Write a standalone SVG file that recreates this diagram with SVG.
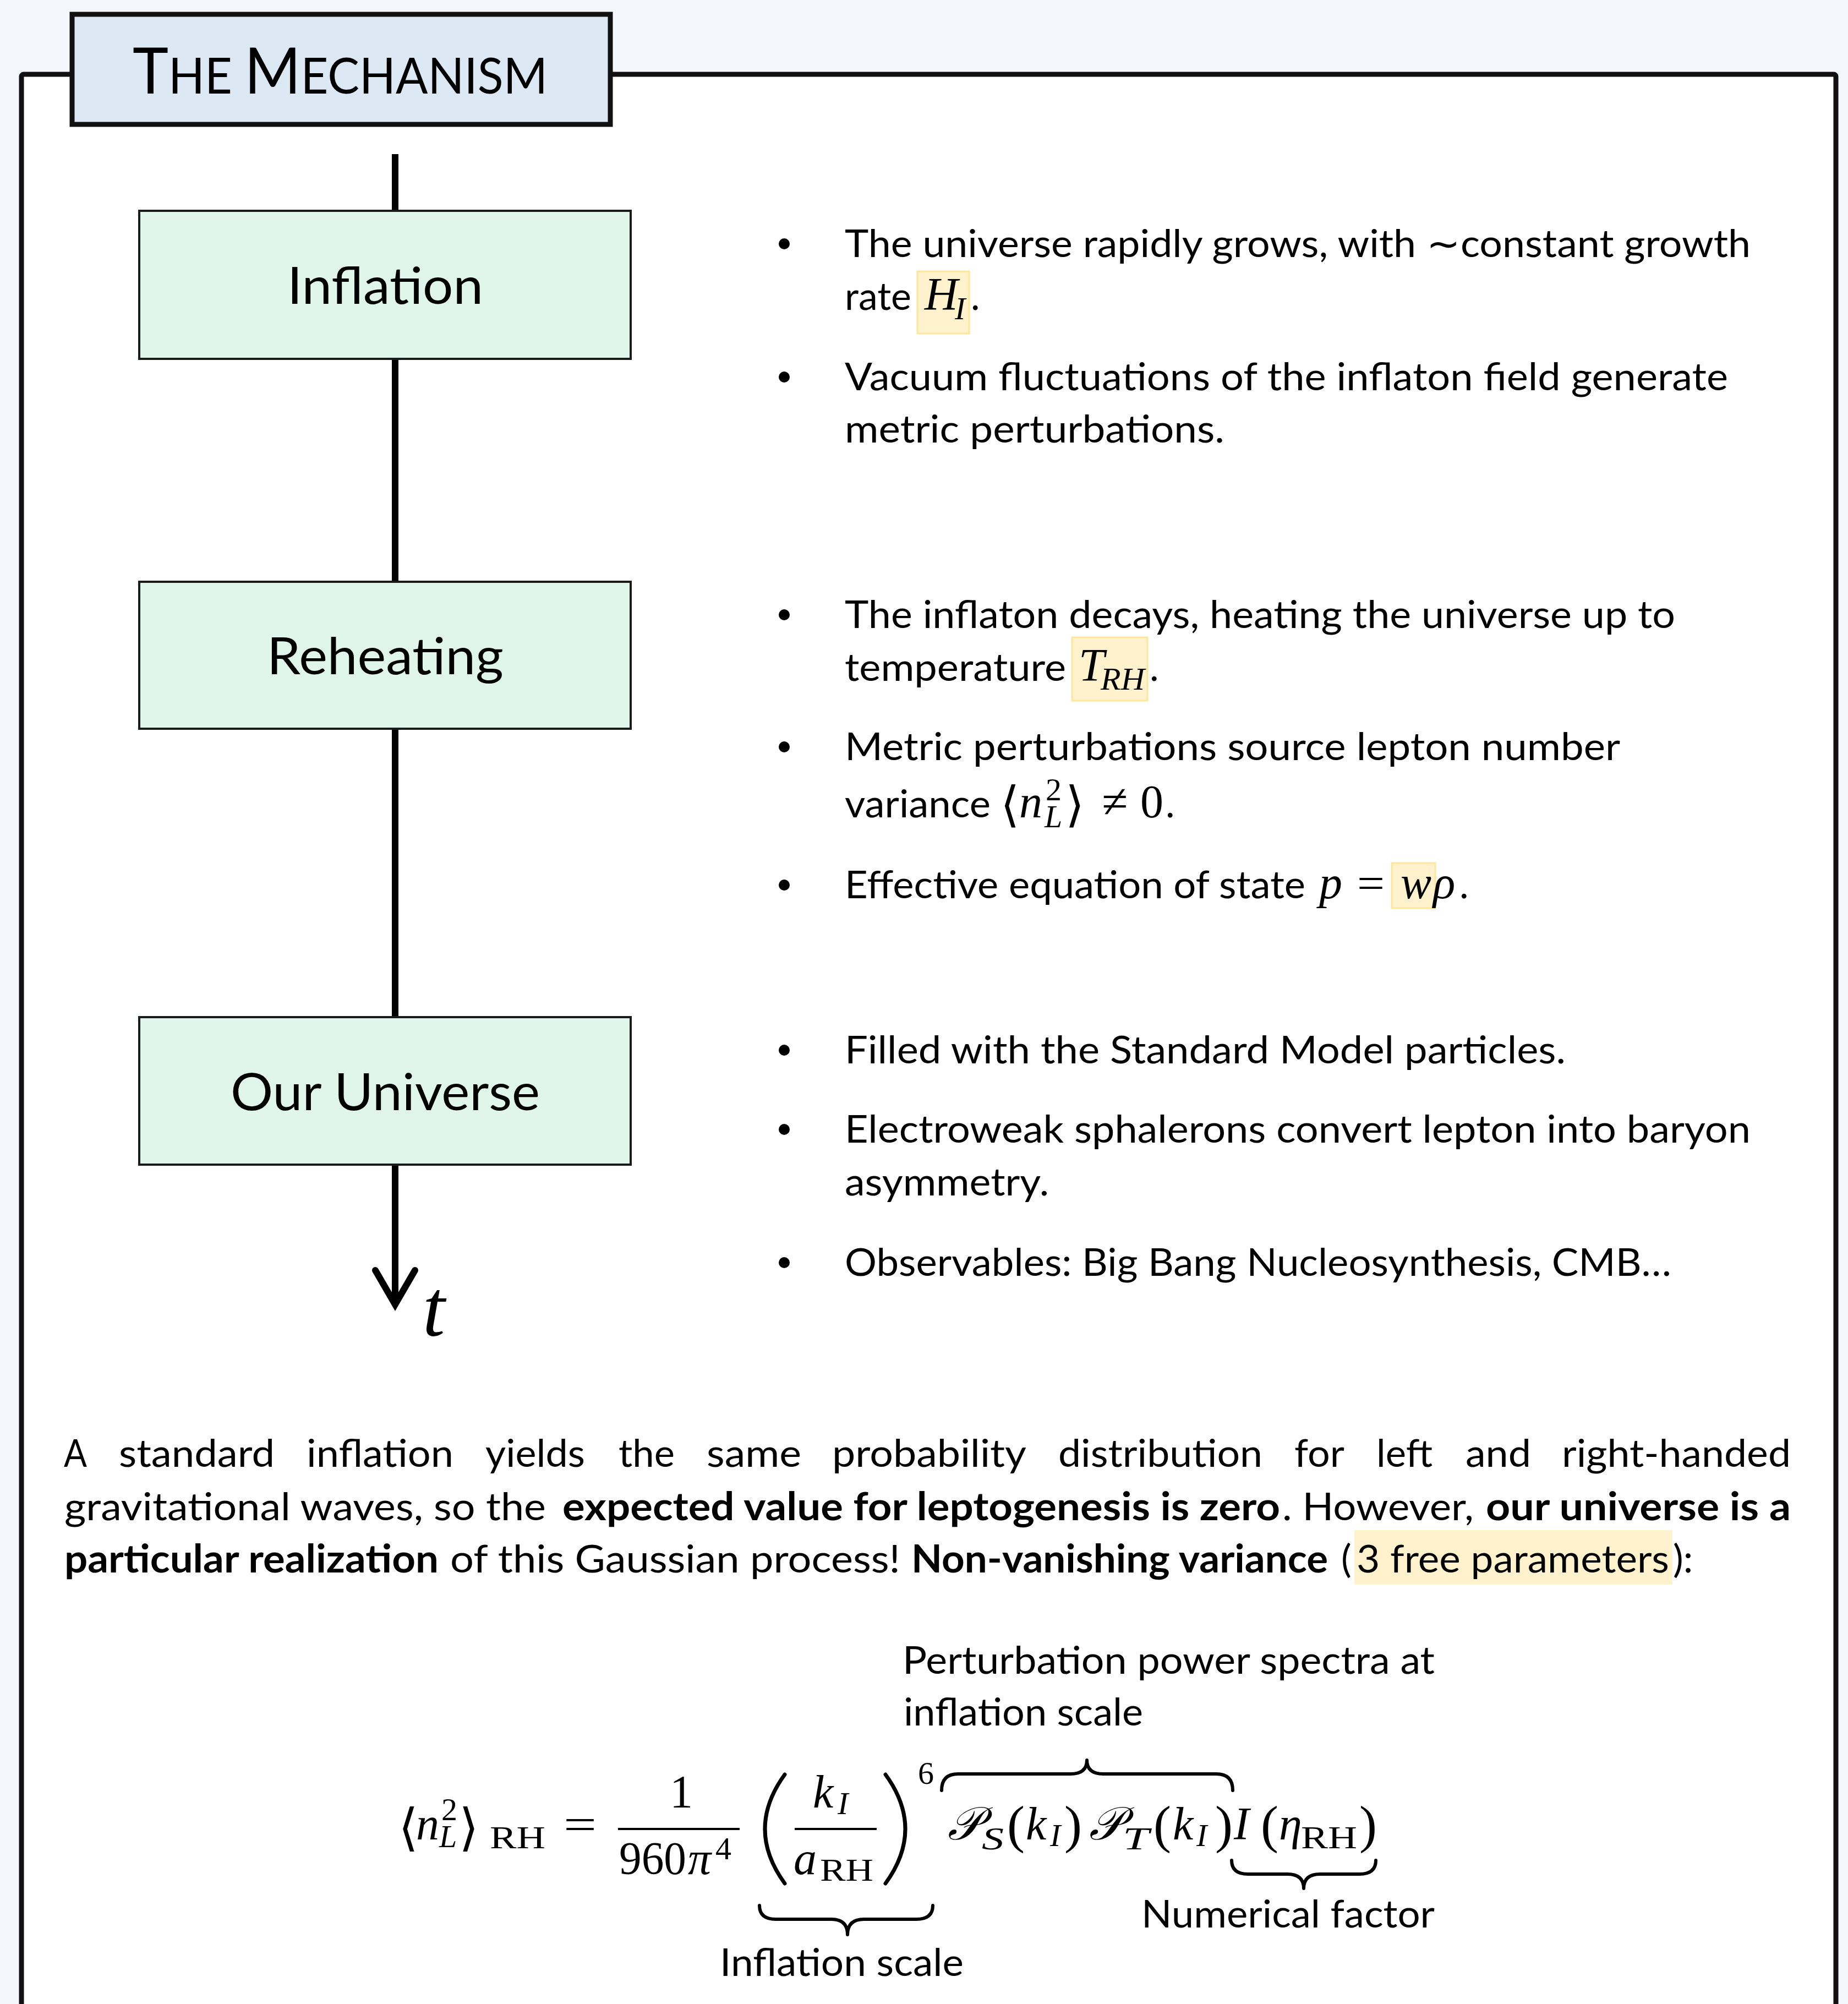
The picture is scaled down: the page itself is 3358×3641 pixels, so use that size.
<svg xmlns="http://www.w3.org/2000/svg" width="3358" height="3641" viewBox="0 0 3358 3641">
<defs>
<style>
.t{font-family:Lato,"Open Sans","Liberation Sans",sans-serif;font-size:70px;fill:#000}
.b{font-weight:700}
.lbl{font-family:Lato,"Open Sans",sans-serif;font-size:93px;fill:#000;text-anchor:middle}
.node{fill:#e0f5ec;stroke:#1a1a1a;stroke-width:4}
.hl{fill:#fff2cc;stroke:#ffe699;stroke-width:3}
.m{font-family:"Liberation Serif","DejaVu Serif",serif;font-size:80px;fill:#000}
.i{font-style:italic}
.s{font-size:58px}
.ang{font-family:"DejaVu Sans",sans-serif}
.brace{fill:none;stroke:#000;stroke-width:6;stroke-linecap:round;stroke-linejoin:round}
.paren{fill:none;stroke:#000;stroke-width:7;stroke-linecap:round}
.conn{stroke:#000;stroke-width:12;fill:none}
.dot{fill:#000}
</style>
</defs>
<rect x="0" y="0" width="3358" height="3641" fill="#f4f7fb"/>
<rect id="frame" x="39" y="135" width="3297" height="3600" rx="4" fill="#fff" stroke="#111" stroke-width="9"/>

<g id="title">
<rect x="131" y="26" width="978" height="200" fill="#dde8f5" stroke="#111" stroke-width="9"/>
<text x="241" y="170" class="t" textLength="754" lengthAdjust="spacingAndGlyphs"><tspan font-size="116">T</tspan><tspan font-size="91">HE </tspan><tspan font-size="116">M</tspan><tspan font-size="91">ECHANISM</tspan></text>
</g>

<g id="connectors">
<line class="conn" x1="718" y1="280" x2="718" y2="383"/>
<line class="conn" x1="718" y1="652" x2="718" y2="1057"/>
<line class="conn" x1="718" y1="1324" x2="718" y2="1848"/>
<line class="conn" x1="718" y1="2116" x2="718" y2="2368"/>
<polyline class="conn" points="682,2308 718,2370 754,2308" stroke-linecap="round" stroke-linejoin="miter"/>
<text x="768" y="2427" class="m i" style="font-size:146px">t</text>
</g>

<g id="inflation">
<rect class="node" x="253" y="383" width="893" height="269"/>
<text class="lbl" x="700" y="552" textLength="356" lengthAdjust="spacingAndGlyphs">Inflation</text>
</g>
<g id="reheating">
<rect class="node" x="253" y="1057" width="893" height="267"/>
<text class="lbl" x="700" y="1225" textLength="430" lengthAdjust="spacingAndGlyphs">Reheating</text>
</g>
<g id="our-universe">
<rect class="node" x="253" y="1848" width="893" height="268"/>
<text class="lbl" x="700" y="2017" textLength="562" lengthAdjust="spacingAndGlyphs">Our Universe</text>
</g>

<g id="inflation-notes">
<circle class="dot" cx="1425" cy="443" r="10"/>
<text class="t" x="1535" y="467" textLength="1646" lengthAdjust="spacingAndGlyphs">The universe rapidly grows, with ∼constant growth</text>
<text class="t" x="1535" y="563" textLength="121" lengthAdjust="spacingAndGlyphs">rate</text>
<rect class="hl" x="1667" y="493" width="94" height="113"/>
<text class="m i"><tspan x="1680" y="563" font-size="84">H</tspan><tspan x="1735" y="580" class="s">I</tspan></text>
<text class="t" x="1764" y="563">.</text>
<circle class="dot" cx="1425" cy="685" r="10"/>
<text class="t" x="1535" y="709" textLength="1605" lengthAdjust="spacingAndGlyphs">Vacuum fluctuations of the inflaton field generate</text>
<text class="t" x="1535" y="804" textLength="690" lengthAdjust="spacingAndGlyphs">metric perturbations.</text>
</g>

<g id="reheating-notes">
<circle class="dot" cx="1425" cy="1117" r="10"/>
<text class="t" x="1535" y="1141" textLength="1509" lengthAdjust="spacingAndGlyphs">The inflaton decays, heating the universe up to</text>
<text class="t" x="1535" y="1237" textLength="402" lengthAdjust="spacingAndGlyphs">temperature</text>
<rect class="hl" x="1948" y="1158" width="137" height="115"/>
<text class="m i"><tspan x="1960" y="1237" font-size="84">T</tspan><tspan x="2000" y="1253" class="s" textLength="80" lengthAdjust="spacingAndGlyphs">RH</tspan></text>
<text class="t" x="2089" y="1237">.</text>
<circle class="dot" cx="1425" cy="1357" r="10"/>
<text class="t" x="1535" y="1381" textLength="1409" lengthAdjust="spacingAndGlyphs">Metric perturbations source lepton number</text>
<text class="t" x="1535" y="1485" textLength="265" lengthAdjust="spacingAndGlyphs">variance</text>
<text class="m"><tspan class="ang" x="1818" y="1492" font-size="88">⟨</tspan><tspan class="i" x="1852" y="1485" font-size="84">n</tspan><tspan class="s" x="1900" y="1454">2</tspan><tspan class="i s" x="1898" y="1503">L</tspan><tspan class="ang" x="1936" y="1492" font-size="88">⟩</tspan></text>
<text class="m" x="2002" y="1485" style="font-size:86px">≠</text>
<text class="m" x="2072" y="1485" style="font-size:84px">0</text>
<text class="t" x="2118" y="1485">.</text>
<circle class="dot" cx="1425" cy="1608" r="10"/>
<text class="t" x="1535" y="1632" textLength="837" lengthAdjust="spacingAndGlyphs">Effective equation of state</text>
<rect class="hl" x="2529" y="1568" width="79" height="82"/>
<text class="m i" x="2397" y="1632" style="font-size:84px">p</text>
<text class="m" x="2466" y="1632" textLength="50" lengthAdjust="spacingAndGlyphs">=</text>
<text class="m i" x="2545" y="1632" style="font-size:84px">w</text>
<text class="m i" x="2604" y="1632" style="font-size:84px">ρ</text>
<text class="t" x="2652" y="1632">.</text>
</g>

<g id="universe-notes">
<circle class="dot" cx="1425" cy="1908" r="10"/>
<text class="t" x="1535" y="1932" textLength="1310" lengthAdjust="spacingAndGlyphs">Filled with the Standard Model particles.</text>
<circle class="dot" cx="1425" cy="2052" r="10"/>
<text class="t" x="1535" y="2076" textLength="1646" lengthAdjust="spacingAndGlyphs">Electroweak sphalerons convert lepton into baryon</text>
<text class="t" x="1535" y="2172" textLength="371" lengthAdjust="spacingAndGlyphs">asymmetry.</text>
<circle class="dot" cx="1425" cy="2294" r="10"/>
<text class="t" x="1535" y="2318" textLength="1502" lengthAdjust="spacingAndGlyphs">Observables: Big Bang Nucleosynthesis, CMB…</text>
</g>

<g id="paragraph">
<text class="t" x="116" y="2665" textLength="42" lengthAdjust="spacingAndGlyphs">A</text>
<text class="t" x="216" y="2665" textLength="283" lengthAdjust="spacingAndGlyphs">standard</text>
<text class="t" x="557" y="2665" textLength="267" lengthAdjust="spacingAndGlyphs">inflation</text>
<text class="t" x="882" y="2665" textLength="181" lengthAdjust="spacingAndGlyphs">yields</text>
<text class="t" x="1124" y="2665" textLength="102" lengthAdjust="spacingAndGlyphs">the</text>
<text class="t" x="1284" y="2665" textLength="172" lengthAdjust="spacingAndGlyphs">same</text>
<text class="t" x="1512" y="2665" textLength="353" lengthAdjust="spacingAndGlyphs">probability</text>
<text class="t" x="1923" y="2665" textLength="371" lengthAdjust="spacingAndGlyphs">distribution</text>
<text class="t" x="2352" y="2665" textLength="91" lengthAdjust="spacingAndGlyphs">for</text>
<text class="t" x="2501" y="2665" textLength="102" lengthAdjust="spacingAndGlyphs">left</text>
<text class="t" x="2663" y="2665" textLength="119" lengthAdjust="spacingAndGlyphs">and</text>
<text class="t" x="2838" y="2665" textLength="416" lengthAdjust="spacingAndGlyphs">right-handed</text>
<text class="t" x="117" y="2762" textLength="875" lengthAdjust="spacingAndGlyphs">gravitational waves, so the</text>
<text class="t b" x="1022" y="2762" textLength="1304" lengthAdjust="spacingAndGlyphs">expected value for leptogenesis is zero</text>
<text class="t" x="2330" y="2762" textLength="348" lengthAdjust="spacingAndGlyphs">. However,</text>
<text class="t b" x="2700" y="2762" textLength="554" lengthAdjust="spacingAndGlyphs">our universe is a</text>
<text class="t b" x="117" y="2857" textLength="680" lengthAdjust="spacingAndGlyphs">particular realization</text>
<text class="t" x="818" y="2857" textLength="818" lengthAdjust="spacingAndGlyphs">of this Gaussian process!</text>
<text class="t b" x="1656" y="2857" textLength="757" lengthAdjust="spacingAndGlyphs">Non-vanishing variance</text>
<rect x="2461" y="2780" width="578" height="99" fill="#fff2cc"/>
<text class="t" x="2437" y="2857">(</text>
<text class="t" x="2465" y="2857" textLength="568" lengthAdjust="spacingAndGlyphs">3 free parameters</text>
<text class="t" x="3040" y="2857">):</text>
</g>

<g id="equation">
<text class="m"><tspan class="ang" x="724" y="3352" font-size="92">⟨</tspan><tspan class="i" x="756" y="3342" font-size="84">n</tspan><tspan class="s" x="802" y="3307">2</tspan><tspan class="i s" x="798" y="3356">L</tspan><tspan class="ang" x="834" y="3352" font-size="92">⟩</tspan><tspan class="s" x="890" y="3358" textLength="101" lengthAdjust="spacingAndGlyphs">RH</tspan></text>
<text class="m" x="1024" y="3342" textLength="60" lengthAdjust="spacingAndGlyphs">=</text>
<text class="m" x="1217" y="3284" style="font-size:84px">1</text>
<line x1="1123" y1="3323" x2="1344" y2="3323" stroke="#000" stroke-width="4"/>
<text class="m" x="1125" y="3405" style="font-size:84px" textLength="122" lengthAdjust="spacingAndGlyphs">960</text>
<text class="m"><tspan class="i" x="1250" y="3405" font-size="84">π</tspan><tspan class="s" x="1300" y="3378">4</tspan></text>
<path class="paren" d="M1426,3224 Q1354,3323 1426,3422"/>
<path class="paren" d="M1609,3224 Q1681,3323 1609,3422"/>
<text class="m i"><tspan x="1477" y="3284" font-size="84">k</tspan><tspan class="s" x="1522" y="3296">I</tspan></text>
<line x1="1444" y1="3323" x2="1593" y2="3323" stroke="#000" stroke-width="4"/>
<text class="m"><tspan class="i" x="1442" y="3405" font-size="84">a</tspan><tspan class="s" x="1490" y="3417" textLength="97" lengthAdjust="spacingAndGlyphs">RH</tspan></text>
<text class="m s" x="1668" y="3241">6</text>
<text class="m"><tspan class="i" x="1722" y="3342" font-size="84">𝒫</tspan><tspan class="i s" x="1784" y="3360" textLength="40" lengthAdjust="spacingAndGlyphs">S</tspan><tspan x="1830" y="3347" font-size="96">(</tspan><tspan class="i" x="1864" y="3342" font-size="84">k</tspan><tspan class="i s" x="1908" y="3354">I</tspan><tspan x="1934" y="3347" font-size="96">)</tspan><tspan class="i" x="1979" y="3342" font-size="84">𝒫</tspan><tspan class="i s" x="2040" y="3360" textLength="48" lengthAdjust="spacingAndGlyphs">T</tspan><tspan x="2096" y="3347" font-size="96">(</tspan><tspan class="i" x="2131" y="3342" font-size="84">k</tspan><tspan class="i s" x="2174" y="3354">I</tspan><tspan x="2208" y="3347" font-size="96">)</tspan><tspan class="i" x="2242" y="3342" font-size="84">I</tspan><tspan x="2291" y="3347" font-size="96">(</tspan><tspan class="i" x="2324" y="3342" font-size="84">η</tspan><tspan class="s" x="2364" y="3358" textLength="102" lengthAdjust="spacingAndGlyphs">RH</tspan><tspan x="2470" y="3347" font-size="96">)</tspan></text>
<path class="brace" d="M1711,3253 Q1711,3223 1741,3223 L1945,3223 Q1975,3223 1975,3198 Q1975,3223 2005,3223 L2210,3223 Q2240,3223 2240,3253"/>
<path class="brace" d="M1380,3462 Q1380,3487 1410,3487 L1510,3487 Q1540,3487 1540,3515 Q1540,3487 1570,3487 L1665,3487 Q1695,3487 1695,3462"/>
<path class="brace" d="M2238,3380 Q2238,3405 2268,3405 L2339,3405 Q2369,3405 2369,3431 Q2369,3405 2399,3405 L2470,3405 Q2500,3405 2500,3380"/>
<text class="t" x="1640" y="3041" textLength="967" lengthAdjust="spacingAndGlyphs">Perturbation power spectra at</text>
<text class="t" x="1642" y="3135" textLength="435" lengthAdjust="spacingAndGlyphs">inflation scale</text>
<text class="t" x="1308" y="3590" textLength="443" lengthAdjust="spacingAndGlyphs">Inflation scale</text>
<text class="t" x="2074" y="3502" textLength="533" lengthAdjust="spacingAndGlyphs">Numerical factor</text>
</g>
</svg>
